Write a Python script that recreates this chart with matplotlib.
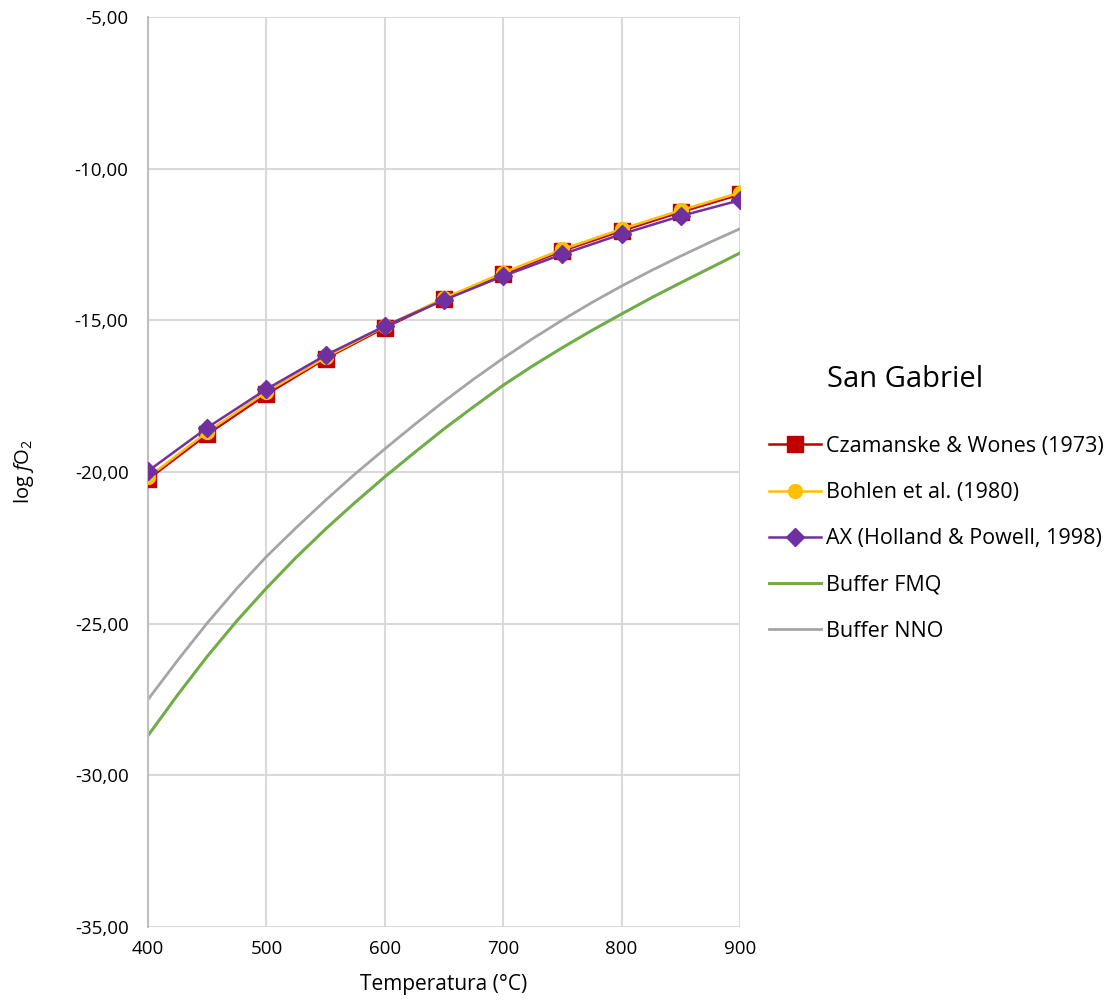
import matplotlib
matplotlib.use("Agg")
import matplotlib.pyplot as plt
from matplotlib.ticker import FuncFormatter, MultipleLocator

plt.rcParams['font.family'] = ['Open Sans', 'DejaVu Sans']
plt.rcParams['mathtext.fontset'] = 'custom'
plt.rcParams['mathtext.rm'] = 'Open Sans'
plt.rcParams['mathtext.it'] = 'Open Sans:italic'

temp = [400, 450, 500, 550, 600, 650, 700, 750, 800, 850, 900]
czamanske = [-20.24, -18.76, -17.44, -16.26, -15.24, -14.31, -13.48, -12.71, -12.05, -11.43, -10.85]
bohlen = [-20.18, -18.68, -17.36, -16.22, -15.20, -14.27, -13.43, -12.66, -11.99, -11.37, -10.79]
ax_hp = [-19.97, -18.54, -17.27, -16.15, -15.19, -14.33, -13.54, -12.82, -12.16, -11.56, -11.04]

temp_buf = [400, 425, 450, 475, 500, 525, 550, 575, 600, 625, 650, 675, 700,
            725, 750, 775, 800, 825, 850, 875, 900]
fmq = [-28.69, -27.35, -26.08, -24.91, -23.83, -22.82, -21.88, -21.00, -20.16, -19.36, -18.58,
       -17.85, -17.14, -16.50, -15.90, -15.33, -14.79, -14.26, -13.76, -13.27, -12.78]
nno = [-27.50, -26.21, -24.98, -23.84, -22.79, -21.84, -20.93, -20.06, -19.24, -18.44, -17.67,
       -16.94, -16.25, -15.60, -14.99, -14.41, -13.87, -13.36, -12.88, -12.42, -11.98]

labels = ['Czamanske & Wones (1973)', 'Bohlen et al. (1980)',
          'AX (Holland & Powell, 1998)', 'Buffer FMQ', 'Buffer NNO']

fig = plt.figure(figsize=(11.13, 10.06), dpi=100)
ax = fig.add_axes([148/1113, 1-927/1006, (740-148)/1113, (927-17)/1006])

ax.plot(temp, czamanske, color='#C00000', lw=1.8, marker='s', ms=11, label=labels[0], zorder=3)
ax.plot(temp, bohlen, color='#FFC000', lw=1.8, marker='o', ms=10, label=labels[1], zorder=4)
ax.plot(temp, ax_hp, color='#7030A0', lw=1.8, marker='D', ms=9, label=labels[2], zorder=5)
ax.plot(temp_buf, fmq, color='#70AD47', lw=2.2, label=labels[3], zorder=2)
ax.plot(temp_buf, nno, color='#A5A5A5', lw=2.0, label=labels[4], zorder=2)

ax.set_xlim(400, 900)
ax.set_ylim(-35, -5)
ax.xaxis.set_major_locator(MultipleLocator(100))
ax.yaxis.set_major_locator(MultipleLocator(5))
ax.yaxis.set_major_formatter(FuncFormatter(lambda v, p: ('%.2f' % v).replace('.', ',')))
ax.grid(True, color='#D9D9D9', lw=1.5)
ax.set_axisbelow(True)
for s in ['top', 'right', 'bottom']:
    ax.spines[s].set_visible(False)
ax.spines['left'].set_color('#BFBFBF')
ax.spines['left'].set_linewidth(1.5)
ax.tick_params(length=0, labelsize=13.5, colors='#000000')
ax.tick_params(axis='x', pad=9)
ax.tick_params(axis='y', pad=14)

ax.set_xlabel('Temperatura (°C)', fontsize=15, labelpad=12)
ax.set_ylabel('log $\\mathit{f}$O$_2$', fontsize=14.5, labelpad=28)

fig.text(905/1113, 1-380/1006, 'San Gabriel', fontsize=21, ha='center', va='center')
leg = ax.legend(loc='upper left', bbox_to_anchor=(769/1113, 1-436/1006),
                bbox_transform=fig.transFigure, frameon=False, fontsize=15.5,
                handlelength=2.4, labelspacing=1.17, handletextpad=0.25,
                borderaxespad=0, borderpad=0)

fig.savefig('out.png', dpi=100)
